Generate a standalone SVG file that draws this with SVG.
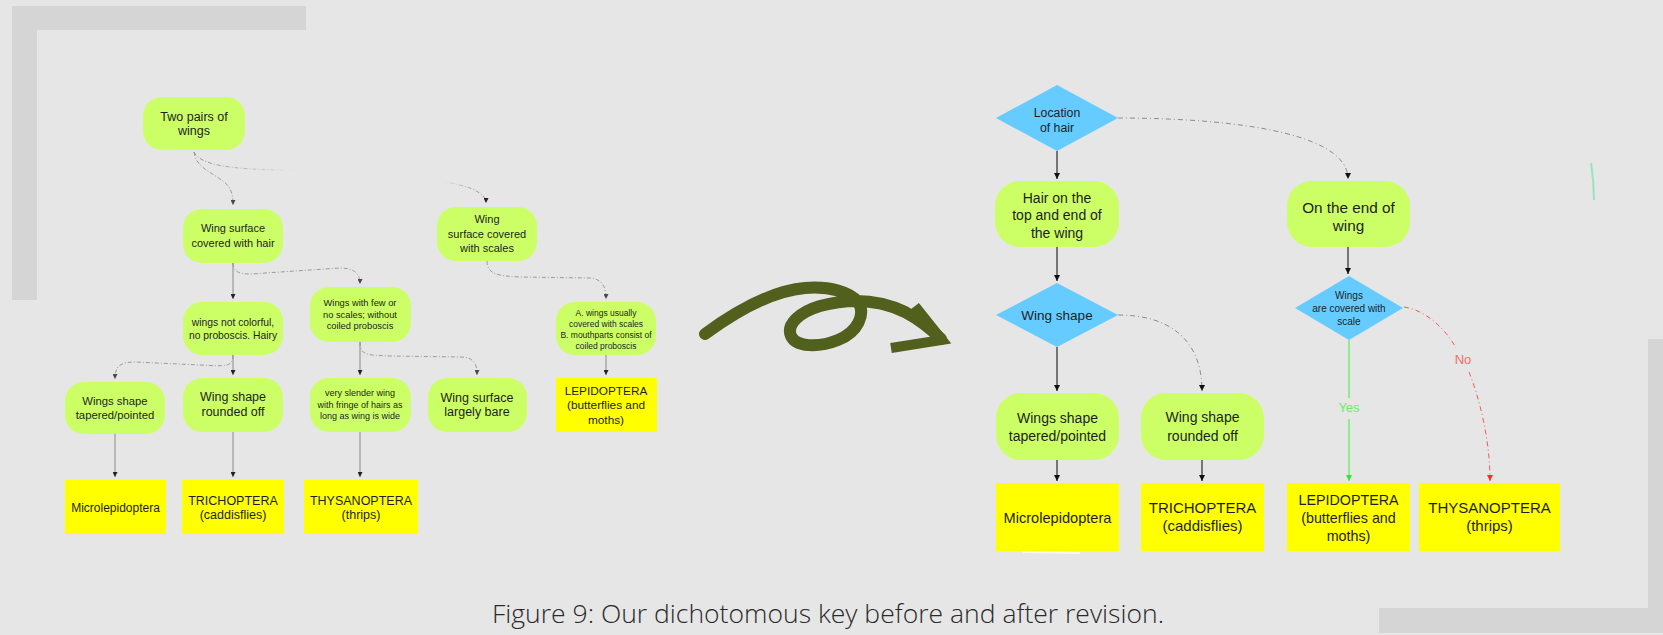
<svg xmlns="http://www.w3.org/2000/svg" width="1663" height="635" viewBox="0 0 1663 635">
<style>
text{font-family:"Liberation Sans",Arial,sans-serif;fill:#1e1e1e;text-anchor:middle}
.g{fill:#ccff66}
.y{fill:#ffff00}
.b{fill:#66ccff}
.band{fill:#d5d5d5}
.ls{fill:none;stroke:#8a8a8a;stroke-width:1}
.ld{fill:none;stroke:#8a8a8a;stroke-width:1;stroke-dasharray:4 2 1 2;opacity:.8}
.rs{fill:none;stroke:#3a3a3a;stroke-width:1.3}
.rd{fill:none;stroke:#8c8c8c;stroke-width:1;stroke-dasharray:5 3 1 3}
.cap{font-family:"Open Sans","Liberation Sans",sans-serif;font-weight:300;fill:#2a2a2a;text-anchor:start}
</style>
<defs>
<marker id="ah" viewBox="0 0 6 6" refX="6" refY="3" markerWidth="6" markerHeight="6" markerUnits="userSpaceOnUse" orient="auto"><path d="M0,0 L6,3 L0,6 z" fill="#111"/></marker>
<marker id="ahs" viewBox="0 0 6 6" refX="6" refY="3" markerWidth="5" markerHeight="5" markerUnits="userSpaceOnUse" orient="auto"><path d="M0,0 L6,3 L0,6 z" fill="#222"/></marker>
<marker id="ahg" viewBox="0 0 6 6" refX="6" refY="3" markerWidth="6" markerHeight="6" markerUnits="userSpaceOnUse" orient="auto"><path d="M0,0 L6,3 L0,6 z" fill="#33e833"/></marker>
<marker id="ahr" viewBox="0 0 6 6" refX="6" refY="3" markerWidth="6" markerHeight="6" markerUnits="userSpaceOnUse" orient="auto"><path d="M0,0 L6,3 L0,6 z" fill="#ff2a2a"/></marker>
<linearGradient id="fade" gradientUnits="userSpaceOnUse" x1="194" y1="0" x2="486" y2="0">
<stop offset="0" stop-color="#888" stop-opacity="0.9"/>
<stop offset="0.25" stop-color="#888" stop-opacity="0.3"/>
<stop offset="0.35" stop-color="#888" stop-opacity="0"/>
<stop offset="0.85" stop-color="#888" stop-opacity="0"/>
<stop offset="0.93" stop-color="#888" stop-opacity="0.6"/>
<stop offset="1" stop-color="#888" stop-opacity="1"/>
</linearGradient>
</defs>
<rect width="1663" height="635" fill="#e6e6e6"/>
<g id="frame">
<rect class="band" x="12" y="6" width="294" height="24"/>
<rect class="band" x="12" y="6" width="25" height="294"/>
<rect class="band" x="1379" y="608" width="284" height="25"/>
<rect class="band" x="1648" y="339" width="15" height="294"/>
<path d="M1591,163 Q1594,182 1594,200" fill="none" stroke="#80e6b8" stroke-width="2" opacity="0.8"/>
<path d="M1023,552 L1080,553" stroke="#ffffff" stroke-width="2" opacity="0.7"/>
</g>

<g id="connectors">
<!-- left diagram -->
<path class="ld" d="M194,152 C196,168 212,172 224,182 C232,188 233,196 233,205" marker-end="url(#ahs)"/>
<path d="M194,152 C200,165 230,169 280,170 C380,172 440,178 470,188 C482,193 486,198 486,203" fill="none" stroke="url(#fade)" stroke-width="1" stroke-dasharray="4 2 1 2"/>
<path d="M486,198 L486,203" stroke="none" fill="none" marker-end="url(#ahs)"/>
<path class="ls" d="M233,263 L233,299" marker-end="url(#ahs)"/>
<path class="ld" d="M233,263 C233,275 245,275 265,273 L340,268 C355,268 360,274 360,284" marker-end="url(#ahs)"/>
<path class="ld" d="M487,261 C487,275 500,276 520,277 L590,278 C603,279 606,288 606,299" marker-end="url(#ahs)"/>
<path class="ld" d="M233,355 C233,368 225,366 200,365 L135,362 C118,362 115,368 115,379" marker-end="url(#ahs)"/>
<path class="ls" d="M233,355 L233,375" marker-end="url(#ahs)"/>
<path class="ls" d="M360,342 L360,375" marker-end="url(#ahs)"/>
<path class="ld" d="M360,342 C360,356 368,355 390,356 L460,357 C475,357 477,365 477,375" marker-end="url(#ahs)"/>
<path class="ls" d="M606,355 L606,375" marker-end="url(#ahs)"/>
<path class="ls" d="M115,434 L115,477" marker-end="url(#ahs)"/>
<path class="ls" d="M233,432 L233,477" marker-end="url(#ahs)"/>
<path class="ls" d="M360,432 L360,477" marker-end="url(#ahs)"/>
<!-- right diagram -->
<path class="rs" d="M1057,151 L1057,179" marker-end="url(#ah)"/>
<path class="rs" d="M1057,247 L1057,281" marker-end="url(#ah)"/>
<path class="rd" d="M1118,118 C1210,118 1348,128 1348,179" marker-end="url(#ah)"/>
<path class="rs" d="M1348,247 L1348,274" marker-end="url(#ah)"/>
<path class="rs" d="M1057,347 L1057,391" marker-end="url(#ah)"/>
<path class="rd" d="M1118,315 C1170,315 1202,340 1202,391" marker-end="url(#ah)"/>
<path class="rs" d="M1057,460 L1057,481" marker-end="url(#ah)"/>
<path class="rs" d="M1202,460 L1202,481" marker-end="url(#ah)"/>
<path d="M1349,340 L1349,398 M1349,419 L1349,481" fill="none" stroke="#55ee55" stroke-width="1.2" marker-end="url(#ahg)"/>
<path d="M1404,307 C1425,310 1445,328 1456,348 M1469,372 C1480,400 1490,440 1490,481" fill="none" stroke="#ff5555" stroke-width="1" stroke-dasharray="5 3 1 3" marker-end="url(#ahr)"/>
<text x="1349" y="412" font-size="13" style="fill:#66ee66">Yes</text>
<text x="1463" y="364" font-size="13" style="fill:#ff6a6a">No</text>
</g>

<g id="arrow">
<path d="M705,334 C735,312 770,291 805,288 C830,286 850,292 858,302 C866,314 858,332 838,340 C818,348 796,347 791,336 C786,324 800,312 820,306 C850,298 880,300 905,312 C920,320 932,330 941,339" fill="none" stroke="#51601c" stroke-width="12" stroke-linecap="round"/>
<path d="M915,306 L942,340 L891,348" fill="none" stroke="#51601c" stroke-width="10" stroke-linejoin="miter"/>
</g>

<!-- left nodes -->
<g id="l-two-pairs"><rect class="g" x="143" y="97" width="102" height="53" rx="19"/><text font-size="12.5" x="194"><tspan x="194" y="120.5">Two pairs of</tspan><tspan x="194" y="135">wings</tspan></text></g>
<g id="l-hair"><rect class="g" x="183" y="209" width="100" height="54" rx="19"/><text font-size="11" x="233"><tspan x="233" y="232">Wing surface</tspan><tspan x="233" y="246.5">covered with hair</tspan></text></g>
<g id="l-scales"><rect class="g" x="437" y="207" width="100" height="54" rx="19"/><text font-size="11" x="487"><tspan x="487" y="223">Wing</tspan><tspan x="487" y="237.5">surface covered</tspan><tspan x="487" y="252">with scales</tspan></text></g>
<g id="l-not-colorful"><rect class="g" x="183" y="302" width="100" height="53" rx="19"/><text font-size="10.3" x="233"><tspan x="233" y="326">wings not colorful,</tspan><tspan x="233" y="338.5">no proboscis. Hairy</tspan></text></g>
<g id="l-few-scales"><rect class="g" x="310" y="287" width="101" height="55" rx="19"/><text font-size="9.3" x="360"><tspan x="360" y="306">Wings with few or</tspan><tspan x="360" y="317.5">no scales; without</tspan><tspan x="360" y="329">coiled proboscis</tspan></text></g>
<g id="l-a-wings"><rect class="g" x="556" y="302" width="100" height="53" rx="19"/><text font-size="8.5" x="606"><tspan x="606" y="316">A. wings usually</tspan><tspan x="606" y="327">covered with scales</tspan><tspan x="606" y="338">B. mouthparts consist of</tspan><tspan x="606" y="348.5">coiled proboscis</tspan></text></g>
<g id="l-tapered"><rect class="g" x="65" y="382" width="100" height="52" rx="19"/><text font-size="11.3" x="115"><tspan x="115" y="405">Wings shape</tspan><tspan x="115" y="419">tapered/pointed</tspan></text></g>
<g id="l-rounded"><rect class="g" x="183" y="378" width="100" height="54" rx="19"/><text font-size="12.5" x="233"><tspan x="233" y="401">Wing shape</tspan><tspan x="233" y="415.5">rounded off</tspan></text></g>
<g id="l-slender"><rect class="g" x="310" y="378" width="101" height="54" rx="19"/><text font-size="9" x="360"><tspan x="360" y="396">very slender wing</tspan><tspan x="360" y="407.5">with fringe of hairs as</tspan><tspan x="360" y="418.5">long as wing is wide</tspan></text></g>
<g id="l-bare"><rect class="g" x="428" y="378" width="99" height="54" rx="19"/><text font-size="12.5" x="477"><tspan x="477" y="401.5">Wing surface</tspan><tspan x="477" y="416">largely bare</tspan></text></g>
<g id="l-lepidoptera"><rect class="y" x="556" y="378" width="101" height="54"/><text font-size="11.8" x="606"><tspan x="606" y="395">LEPIDOPTERA</tspan><tspan x="606" y="409">(butterflies and</tspan><tspan x="606" y="423.5">moths)</tspan></text></g>
<g id="l-micro"><rect class="y" x="65" y="480" width="101" height="54"/><text font-size="12" x="115.5" y="512">Microlepidoptera</text></g>
<g id="l-trichoptera"><rect class="y" x="182" y="480" width="102" height="54"/><text font-size="12.5" x="233"><tspan x="233" y="505">TRICHOPTERA</tspan><tspan x="233" y="518.5">(caddisflies)</tspan></text></g>
<g id="l-thysanoptera"><rect class="y" x="304" y="480" width="114" height="54"/><text font-size="12.5" x="361"><tspan x="361" y="505">THYSANOPTERA</tspan><tspan x="361" y="518.5">(thrips)</tspan></text></g>

<!-- right nodes -->
<g id="r-location"><path class="b" d="M996,118 L1057,85 L1118,118 L1057,151 z"/><text font-size="12.3" x="1057"><tspan x="1057" y="116.5">Location</tspan><tspan x="1057" y="132">of hair</tspan></text></g>
<g id="r-hair-top"><rect class="g" x="995" y="181" width="124" height="66" rx="25"/><text font-size="14" x="1057"><tspan x="1057" y="202.5">Hair on the</tspan><tspan x="1057" y="220">top and end of</tspan><tspan x="1057" y="238">the wing</tspan></text></g>
<g id="r-end"><rect class="g" x="1287" y="181" width="123" height="66" rx="25"/><text font-size="15.3" x="1348.5"><tspan x="1348.5" y="213">On the end of</tspan><tspan x="1348.5" y="231">wing</tspan></text></g>
<g id="r-wing-shape"><path class="b" d="M996,315 L1057,283 L1118,315 L1057,347 z"/><text font-size="13.5" x="1057" y="320">Wing shape</text></g>
<g id="r-covered"><path class="b" d="M1295,308 L1349,276 L1403,308 L1349,340 z"/><text font-size="10" x="1349"><tspan x="1349" y="299">Wings</tspan><tspan x="1349" y="312">are covered with</tspan><tspan x="1349" y="325">scale</tspan></text></g>
<g id="r-tapered"><rect class="g" x="996" y="393" width="123" height="67" rx="25"/><text font-size="14" x="1057.5"><tspan x="1057.5" y="423">Wings shape</tspan><tspan x="1057.5" y="441">tapered/pointed</tspan></text></g>
<g id="r-rounded"><rect class="g" x="1141" y="393" width="123" height="67" rx="25"/><text font-size="14" x="1202.5"><tspan x="1202.5" y="422">Wing shape</tspan><tspan x="1202.5" y="441">rounded off</tspan></text></g>
<g id="r-micro"><rect class="y" x="996" y="483" width="123" height="68"/><text font-size="14.6" x="1057.5" y="523">Microlepidoptera</text></g>
<g id="r-trichoptera"><rect class="y" x="1141" y="483" width="123" height="68"/><text font-size="15" x="1202.5"><tspan x="1202.5" y="513">TRICHOPTERA</tspan><tspan x="1202.5" y="531">(caddisflies)</tspan></text></g>
<g id="r-lepidoptera"><rect class="y" x="1287" y="483" width="123" height="68"/><text font-size="14.3" x="1348.5"><tspan x="1348.5" y="505">LEPIDOPTERA</tspan><tspan x="1348.5" y="523">(butterflies and</tspan><tspan x="1348.5" y="541">moths)</tspan></text></g>
<g id="r-thysanoptera"><rect class="y" x="1419" y="483" width="141" height="68"/><text font-size="15" x="1489.5"><tspan x="1489.5" y="513">THYSANOPTERA</tspan><tspan x="1489.5" y="531">(thrips)</tspan></text></g>

<text class="cap" x="492" y="623" font-size="25" textLength="672" lengthAdjust="spacingAndGlyphs">Figure 9: Our dichotomous key before and after revision.</text>
</svg>
